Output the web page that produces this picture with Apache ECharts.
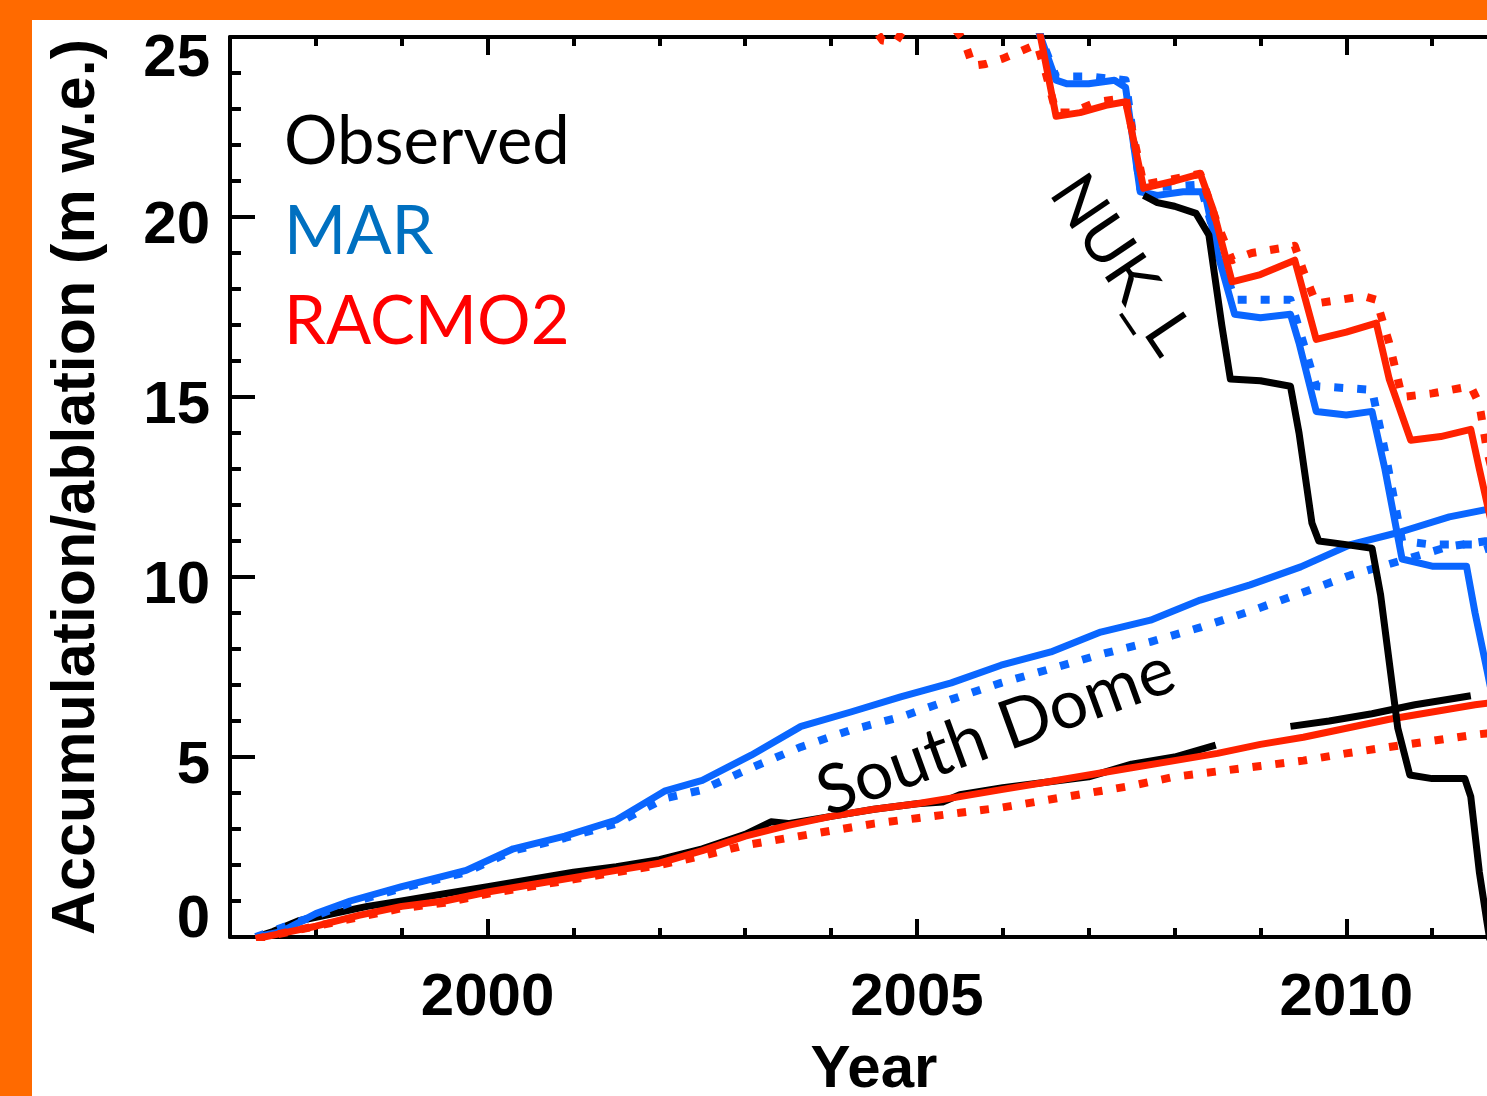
<!DOCTYPE html>
<html><head><meta charset="utf-8">
<script src="https://cdn.jsdelivr.net/npm/echarts@6/dist/echarts.min.js"></script>
<style>
html,body{margin:0;padding:0;background:#ff6a00;overflow:hidden;width:1487px;height:1096px;position:relative;}
#chart{position:absolute;left:32px;top:20px;width:1520px;height:1076px;background:#fff;}
</style></head><body><div id="chart"></div>
<script>
// ---- axis ticks ----
const xMajorTicks = [2000, 2005, 2010];
const yRange = [0, 25];
const xRange = [1997, 2012];

// ---- South Dome series [year, m w.e.] ----
const obsSD = [[1997.30,0.0],[1997.5,0.15],[1997.8,0.45],[1998.0,0.55],[1998.3,0.7],[1998.6,0.85],[1999.0,1.0],[1999.5,1.2],[2000.0,1.4],[2000.5,1.6],[2001.0,1.8],[2001.5,1.95],[2002.0,2.15],[2002.5,2.45],[2003.0,2.85],[2003.3,3.2],[2003.5,3.15],[2004.0,3.35],[2004.5,3.55],[2005.0,3.7],[2005.3,3.75],[2005.5,3.95],[2006.0,4.15],[2006.5,4.3],[2007.0,4.45],[2007.5,4.8],[2008.0,5.0],[2008.48,5.33],[2008.9,null],[2009.35,5.85],[2009.8,6.0],[2010.3,6.2],[2010.8,6.45],[2011.45,6.7]];
const marSD = [[1997.3,0.0],[1997.6,0.15],[1998.0,0.65],[1998.4,1.0],[1999.0,1.4],[1999.5,1.7],[1999.75,1.85],[2000.3,2.45],[2000.9,2.8],[2001.5,3.25],[2002.06,4.05],[2002.5,4.35],[2003.07,5.05],[2003.65,5.85],[2004.23,6.25],[2004.81,6.67],[2005.4,7.06],[2005.98,7.55],[2006.56,7.92],[2007.14,8.47],[2007.72,8.8],[2008.3,9.36],[2008.88,9.78],[2009.47,10.28],[2010.05,10.9],[2010.63,11.25],[2011.2,11.67],[2011.64,11.88],[2012.0,12.0]];
const marSDdot = [[1997.3,0.0],[1998.0,0.6],[1998.4,0.95],[1999.0,1.35],[1999.75,1.8],[2000.3,2.4],[2000.9,2.75],[2001.5,3.15],[2002.06,3.85],[2002.49,4.08],[2003.07,4.7],[2003.65,5.28],[2004.23,5.75],[2004.81,6.11],[2005.4,6.6],[2005.98,7.06],[2006.56,7.45],[2007.14,7.85],[2007.72,8.2],[2008.3,8.6],[2008.88,9.05],[2009.47,9.55],[2010.05,10.05],[2010.63,10.45],[2011.2,10.85],[2011.64,11.0],[2012.0,11.15]];
const racSD = [[1997.3,-0.05],[1997.6,0.1],[1998.0,0.3],[1998.5,0.6],[1999.0,0.85],[1999.5,1.0],[2000.0,1.25],[2000.5,1.45],[2001.0,1.65],[2001.5,1.85],[2002.0,2.05],[2002.5,2.4],[2003.0,2.8],[2003.5,3.1],[2004.0,3.35],[2004.5,3.55],[2005.0,3.7],[2005.5,3.9],[2006.0,4.1],[2006.5,4.3],[2007.0,4.5],[2007.5,4.7],[2008.0,4.9],[2008.5,5.1],[2009.0,5.35],[2009.5,5.55],[2010.0,5.8],[2010.5,6.05],[2011.0,6.25],[2011.5,6.45],[2012.0,6.6]];
const racSDdot = [[1997.3,-0.05],[1998.0,0.3],[1998.5,0.55],[1999.0,0.8],[1999.5,0.95],[2000.0,1.2],[2000.5,1.4],[2001.0,1.6],[2001.5,1.8],[2002.0,2.0],[2002.5,2.25],[2003.0,2.55],[2003.5,2.75],[2004.0,2.95],[2004.5,3.15],[2005.0,3.3],[2005.5,3.45],[2006.0,3.6],[2006.5,3.8],[2007.0,4.0],[2007.5,4.2],[2008.0,4.45],[2008.5,4.6],[2009.0,4.75],[2009.5,4.9],[2010.0,5.1],[2010.5,5.28],[2011.0,5.45],[2011.5,5.62],[2012.0,5.75]];

// ---- NUK_L series [year, m w.e.] ----
const obsNUK = [[2007.64,20.6],[2007.8,20.4],[2008.0,20.3],[2008.25,20.1],[2008.4,19.5],[2008.55,17.0],[2008.65,15.5],[2009.0,15.45],[2009.35,15.3],[2009.45,14.0],[2009.6,11.5],[2009.68,11.0],[2010.0,10.9],[2010.3,10.8],[2010.4,9.5],[2010.6,5.8],[2010.74,4.5],[2011.0,4.4],[2011.38,4.4],[2011.45,3.9],[2011.55,1.8],[2011.64,0.4],[2011.7,-0.5]];
const marNUK = [[2006.3,26.5],[2006.44,25.0],[2006.62,23.8],[2006.75,23.7],[2007.0,23.7],[2007.3,23.8],[2007.43,23.6],[2007.6,20.7],[2007.8,20.6],[2008.1,20.7],[2008.35,20.7],[2008.5,19.0],[2008.7,17.3],[2009.0,17.2],[2009.35,17.3],[2009.45,16.5],[2009.65,14.6],[2010.0,14.5],[2010.3,14.6],[2010.45,13.0],[2010.65,10.5],[2011.0,10.3],[2011.4,10.3],[2011.5,9.0],[2011.64,7.4],[2011.8,5.5]];
const marNUKdot = [[2006.3,26.5],[2006.44,25.0],[2006.62,23.9],[2007.0,23.9],[2007.43,23.8],[2007.6,20.8],[2008.3,20.9],[2008.5,19.2],[2008.7,17.7],[2009.35,17.7],[2009.5,16.5],[2009.65,15.3],[2010.3,15.2],[2010.45,13.5],[2010.65,11.0],[2011.0,10.9],[2011.64,10.9],[2011.9,9.0]];
const racNUK = [[2006.3,26.5],[2006.44,25.0],[2006.62,22.8],[2006.9,22.9],[2007.2,23.1],[2007.43,23.2],[2007.64,20.8],[2008.0,21.0],[2008.3,21.2],[2008.45,20.2],[2008.67,18.2],[2009.0,18.4],[2009.4,18.8],[2009.65,16.6],[2010.0,16.8],[2010.35,17.05],[2010.5,15.5],[2010.75,13.8],[2011.1,13.9],[2011.45,14.1],[2011.55,13.0],[2011.7,11.4],[2011.9,9.5]];
const racNUKdot = [[2004.4,25.6],[2004.6,24.9],[2004.75,24.85],[2004.9,25.4],[2005.45,25.2],[2005.55,24.9],[2005.65,24.2],[2005.8,24.25],[2006.0,24.4],[2006.2,24.6],[2006.4,24.8],[2006.5,24.0],[2006.62,22.9],[2006.8,22.9],[2007.1,23.2],[2007.43,23.3],[2007.64,20.9],[2008.3,21.2],[2008.5,19.8],[2008.67,18.8],[2008.9,19.0],[2009.4,19.2],[2009.5,18.5],[2009.65,17.6],[2010.2,17.8],[2010.35,17.7],[2010.5,16.5],[2010.65,15.0],[2011.0,15.1],[2011.45,15.3],[2011.55,14.8],[2011.64,13.5],[2011.8,12.0]];

const BLUE = '#0a66ff', RED = '#ff2200', BLACK = '#000';
const AXFONT = {fontFamily:'Liberation Sans', fontSize:60, fontWeight:'bold', color:'#000'};

function line(name, data, color, dotted, z){
  return {type:'line', name, data, symbol:'none', showSymbol:false, z,
    connectNulls:false, animation:false, emphasis:{disabled:true},
    itemStyle:{color},
    lineStyle:{color, width: dotted?8:7, type: dotted?[9,14]:'solid', cap:'butt', join:'round'}};
}

const chart = echarts.init(document.getElementById('chart'), null, {renderer:'canvas'});
const tickLine = {color:'#000', width:4};
const option = {
  backgroundColor:'#fff',
  animation:false,
  grid:{left:198, right:34, top:17, bottom:159, containLabel:false, outerBoundsMode:'none'},
  legend:{orient:'vertical', left:242, top:84, itemGap:23, icon:'none', itemWidth:0, itemHeight:0,
    selectedMode:false,
    textStyle:{fontFamily:'Lato', fontSize:67, lineHeight:67},
    data:[{name:'Observed', textStyle:{color:'#000'}},{name:'MAR', textStyle:{color:'#0070c0'}},{name:'RACMO2', textStyle:{color:'#ff0000'}}]},
  xAxis:[
    {type:'value', min:xRange[0], max:xRange[1], interval:1, position:'bottom',
     axisLine:{show:true, onZero:false, lineStyle:tickLine},
     axisTick:{show:true, inside:true, length:9, lineStyle:tickLine},
     splitLine:{show:false},
     axisLabel:{show:true, customValues:xMajorTicks, margin:31, formatter:function(v){return String(v);}, ...AXFONT},
     name:'Year', nameLocation:'middle', nameGap:103, nameTextStyle:{...AXFONT}},
    {type:'value', min:xRange[0], max:xRange[1], position:'bottom',
     axisLine:{show:false}, splitLine:{show:false}, axisLabel:{show:false},
     axisTick:{show:true, inside:true, length:18, customValues:xMajorTicks, lineStyle:tickLine}},
    {type:'value', min:xRange[0], max:xRange[1], interval:1, position:'top',
     axisLine:{show:true, onZero:false, lineStyle:tickLine},
     axisTick:{show:true, inside:true, length:9, lineStyle:tickLine},
     splitLine:{show:false}, axisLabel:{show:false}},
    {type:'value', min:xRange[0], max:xRange[1], position:'top',
     axisLine:{show:false}, splitLine:{show:false}, axisLabel:{show:false},
     axisTick:{show:true, inside:true, length:18, customValues:xMajorTicks, lineStyle:tickLine}}
  ],
  yAxis:[{type:'value', min:yRange[0], max:yRange[1], interval:5, position:'left',
    axisLine:{show:true, onZero:false, lineStyle:tickLine},
    axisTick:{show:true, inside:true, length:25, lineStyle:tickLine},
    minorTick:{show:true, splitNumber:5, length:11, lineStyle:tickLine},
    splitLine:{show:false}, minorSplitLine:{show:false},
    axisLabel:{margin:20, ...AXFONT,
      formatter:function(v){ if(v===25) return '{t|25}'; if(v===0) return '{b|0}'; return '{n|'+v+'}'; },
      rich:{t:{...AXFONT, padding:[44,0,0,0]}, b:{...AXFONT, padding:[0,0,34,0]}, n:{...AXFONT, padding:[19,0,0,0]}}},
    name:'Accumulation/ablation (m w.e.)', nameLocation:'middle', nameRotate:90, nameGap:122,
    nameTextStyle:{...AXFONT, fontSize:61}}],
  series:[
    line('Observed', obsSD, BLACK, false, 2),
    line('MAR', marSDdot, BLUE, true, 3),
    line('MAR', marSD, BLUE, false, 4),
    line('RACMO2', racSDdot, RED, true, 5),
    line('RACMO2', racSD, RED, false, 6),
    line('MAR', marNUKdot, BLUE, true, 3),
    line('MAR', marNUK, BLUE, false, 4),
    line('RACMO2', racNUKdot, RED, true, 5),
    line('RACMO2', racNUK, RED, false, 6),
    line('Observed', obsNUK, BLACK, false, 7)
  ]
};
chart.setOption(option);

const nukPos = chart.convertToPixel({xAxisIndex:0, yAxisIndex:0}, [2007.38, 18.67]);
const sdPos = chart.convertToPixel({xAxisIndex:0, yAxisIndex:0}, [2005.92, 5.69]);
chart.setOption({graphic:[
  {type:'text', x:nukPos[0], y:nukPos[1], rotation:-56*Math.PI/180, z:100,
   style:{text:'NUK_L', fontFamily:'Lato', fontSize:64, fill:'#000', align:'center', verticalAlign:'middle'}},
  {type:'text', x:sdPos[0], y:sdPos[1], rotation:20*Math.PI/180, z:100,
   style:{text:'South Dome', fontFamily:'Lato', fontSize:68, fill:'#000', align:'center', verticalAlign:'middle'}}
]});
</script></body></html>
